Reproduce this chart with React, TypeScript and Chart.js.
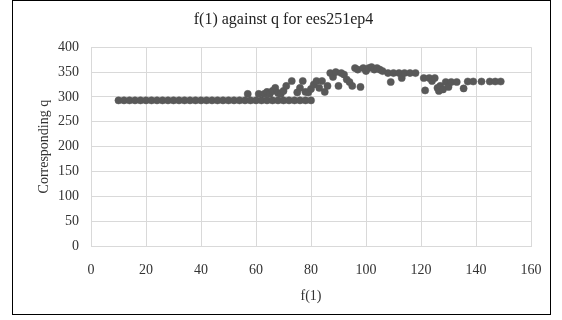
import React, { useEffect, useRef } from "react";
import { Chart, registerables } from "chart.js";

Chart.register(...registerables);

const titleText = "f(1) against q for ees251ep4";
const xAxisTitle = "f(1)";
const yAxisTitle = "Corresponding q";

const fValues: number[] = [
  10, 12, 14, 16, 18, 20, 22, 24, 26, 28, 30, 32, 34, 36, 38, 40, 42, 44, 46, 48,
  50, 52, 54, 56, 58, 60, 62, 64, 66, 68, 70, 72, 74, 76, 78, 80,
  57, 61, 63, 64, 65, 66, 67, 68, 69, 70, 71, 73, 75, 76, 77, 78, 79, 80,
  81, 82, 83, 84, 85, 86, 87, 88, 89, 90, 91, 92, 93, 94, 95, 96, 97, 98, 99, 100,
  101, 102, 103, 104, 105, 106, 108, 109, 110, 112, 113, 114, 116, 118,
  121, 121.5, 123, 124, 125, 126, 126.5, 127, 128, 129, 130, 131, 133, 135.5, 137, 139, 142, 145, 147, 149,
];

const qValues: number[] = [
  293, 293, 293, 293, 293, 293, 293, 293, 293, 293, 293, 293, 293, 293, 293, 293, 293, 293, 293, 293,
  293, 293, 293, 293, 293, 293, 293, 293, 293, 293, 293, 293, 293, 293, 293, 293,
  306, 306, 306, 310, 306, 312, 318, 308, 306, 312, 322, 332, 309, 318, 332, 310, 309, 316,
  325, 332, 318, 332, 310, 322, 348, 340, 350, 322, 348, 345, 335, 330, 322, 358, 355, 320, 358, 352,
  358, 360, 355, 358, 355, 352, 348, 330, 348, 348, 338, 348, 348, 348,
  338, 313, 338, 332, 338, 318, 312, 322, 315, 330, 320, 330, 330, 317, 331, 331, 331, 331, 331, 331,
];

const xTicks = { min: 0, max: 160, step: 20 };
const yTicks = { min: 0, max: 400, step: 50 };

export default function App() {
  const canvasRef = useRef<HTMLCanvasElement>(null);

  useEffect(() => {
    if (!canvasRef.current) return;
    const font = "'Liberation Serif', 'Times New Roman', serif";
    const points = fValues.map((x, i) => ({ x, y: qValues[i] }));
    const chart = new Chart(canvasRef.current, {
      type: "scatter",
      data: {
        datasets: [
          {
            data: points,
            backgroundColor: "#595959",
            borderColor: "#595959",
            pointRadius: 3.6,
            borderWidth: 0.5,
          },
        ],
      },
      options: {
        animation: false,
        responsive: false,
        maintainAspectRatio: false,
        layout: { padding: { left: 23, right: 19, top: 0, bottom: 9 } },
        plugins: {
          legend: { display: false },
          tooltip: { enabled: false },
          title: {
            display: true,
            text: titleText,
            color: "#222",
            font: { family: font, size: 16, weight: "normal" },
            padding: { top: 9, bottom: 18 },
          },
        },
        scales: {
          x: {
            type: "linear",
            min: xTicks.min,
            max: xTicks.max,
            ticks: {
              stepSize: xTicks.step,
              color: "#333",
              font: { family: font, size: 14 },
              padding: 3,
            },
            grid: { color: "#d9d9d9", drawTicks: true, tickLength: 13, tickColor: "rgba(0,0,0,0)" },
            border: { color: "#d9d9d9" },
            title: {
              display: true,
              text: xAxisTitle,
              color: "#333",
              font: { family: font, size: 14 },
              padding: { top: 3, bottom: 0 },
            },
            afterFit: (scale: any) => {
              scale.height = 59;
            },
          },
          y: {
            type: "linear",
            min: yTicks.min,
            max: yTicks.max,
            ticks: {
              stepSize: yTicks.step,
              color: "#333",
              font: { family: font, size: 14 },
              padding: 12,
            },
            grid: { color: "#d9d9d9", drawTicks: false },
            border: { color: "#d9d9d9" },
            title: {
              display: true,
              text: yAxisTitle,
              color: "#333",
              font: { family: font, size: 14 },
              padding: { top: 0, bottom: 0 },
            },
            afterFit: (scale: any) => {
              scale.width = 55;
            },
          },
        },
      },
    });
    return () => chart.destroy();
  }, []);

  return (
    <div
      style={{
        position: "absolute",
        left: 12,
        top: 0,
        width: 537,
        height: 313,
        border: "1px solid #000",
        background: "#fff",
      }}
    >
      <canvas ref={canvasRef} width={537} height={313} style={{ display: "block" }} />
    </div>
  );
}
